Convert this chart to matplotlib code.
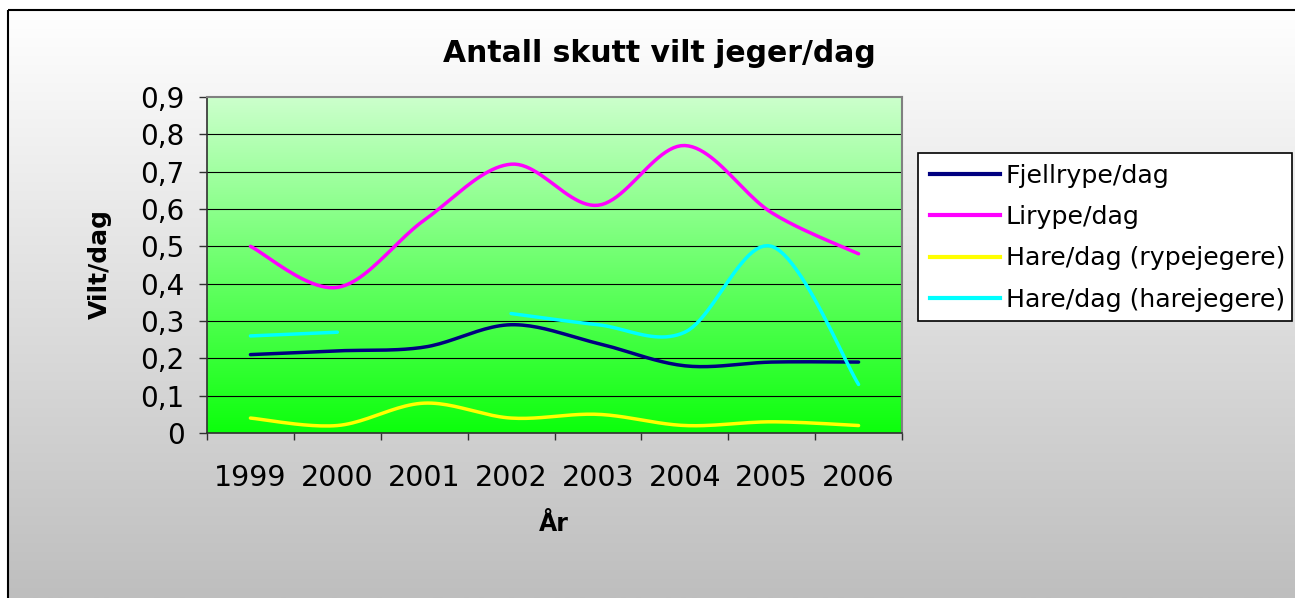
import numpy as np
import matplotlib
matplotlib.use("Agg")
import matplotlib.pyplot as plt
from matplotlib.patches import Rectangle
from matplotlib.lines import Line2D

# ---------------- data ----------------
years = ['1999', '2000', '2001', '2002', '2003', '2004', '2005', '2006']
fjellrype = [0.21, 0.22, 0.23, 0.29, 0.24, 0.18, 0.19, 0.19]
lirype = [0.50, 0.39, 0.57, 0.72, 0.61, 0.77, 0.59, 0.48]
hare_rype = [0.04, 0.02, 0.08, 0.04, 0.05, 0.02, 0.03, 0.02]
hare_hare = [0.26, 0.27, None, 0.32, 0.29, 0.27, 0.50, 0.13]
series_names = ['Fjellrype/dag', 'Lirype/dag', 'Hare/dag (rypejegere)', 'Hare/dag (harejegere)']
series_colors = ['#000080', '#FF00FF', '#FFFF00', '#00FFFF']
yticks = [0, 0.1, 0.2, 0.3, 0.4, 0.5, 0.6, 0.7, 0.8, 0.9]
ytick_labels = ['0', '0,1', '0,2', '0,3', '0,4', '0,5', '0,6', '0,7', '0,8', '0,9']
title = 'Antall skutt vilt jeger/dag'
xlabel = 'År'
ylabel = 'Vilt/dag'

plt.rcParams['font.family'] = ['DejaVu Sans']

W, H = 1295, 598
fig = plt.figure(figsize=(W / 100, H / 100), dpi=100)

# ---------------- chart-area background ----------------
bg = fig.add_axes([0, 0, 1, 1], zorder=-10)
bg.axis('off')
g = np.linspace(255, 190, 256)[:, None] / 255.0
g_img = np.dstack([g, g, g])
bg.imshow(g_img, extent=(8, W + 10, H, 10), aspect='auto', interpolation='bilinear')
bg.add_patch(Rectangle((8, 10), W + 20, H + 20, fill=False, edgecolor='black', lw=1.5, clip_on=False))
bg.set_xlim(0, W)
bg.set_ylim(H, 0)

# ---------------- plot area ----------------
left, right = 207 / W, 902 / W
bottom, top = 1 - 433 / H, 1 - 97 / H
ax = fig.add_axes([left, bottom, right - left, top - bottom])
ax.patch.set_alpha(0)

n = len(years)
xs = np.arange(n)

r = np.linspace(204, 12, 256) / 255.0
grad = np.dstack([r[:, None], np.ones((256, 1)), r[:, None]])
ax.imshow(grad, extent=(-0.5, n - 0.5, 0, 0.9), aspect='auto', interpolation='bilinear', zorder=-1)
ax.set_xlim(-0.5, n - 0.5)
ax.set_ylim(0, 0.9)

for yv in yticks[1:-1]:
    ax.axhline(yv, color='black', lw=0.8, zorder=1)


def smooth(px, py, steps=24):
    pts = np.column_stack([px, py]).astype(float)
    if len(pts) < 3:
        return pts
    out = [pts[0]]
    t = np.linspace(0, 1, steps)[1:, None]
    for i in range(len(pts) - 1):
        p0 = pts[i - 1] if i > 0 else pts[i]
        p1 = pts[i]
        p2 = pts[i + 1]
        p3 = pts[i + 2] if i + 2 < len(pts) else pts[i + 1]
        c1 = p1 + (p2 - p0) / 6
        c2 = p2 - (p3 - p1) / 6
        b = (1 - t) ** 3 * p1 + 3 * (1 - t) ** 2 * t * c1 + 3 * (1 - t) * t ** 2 * c2 + t ** 3 * p2
        out.extend(b)
    return np.array(out)


all_series = [fjellrype, lirype, hare_rype, hare_hare]
for vals, col in zip(all_series, series_colors):
    run_x, run_y = [], []
    runs = []
    for xi, v in zip(xs, vals):
        if v is None:
            if run_x:
                runs.append((run_x, run_y))
            run_x, run_y = [], []
        else:
            run_x.append(xi)
            run_y.append(v)
    if run_x:
        runs.append((run_x, run_y))
    for rx, ry in runs:
        sp = smooth(rx, ry)
        ax.plot(sp[:, 0], sp[:, 1], color=col, lw=2.5, solid_capstyle='round',
                solid_joinstyle='round', zorder=3)

# spines
for s in ['top', 'right']:
    ax.spines[s].set_color('#808080')
    ax.spines[s].set_linewidth(1.5)
for s in ['left', 'bottom']:
    ax.spines[s].set_color('#303030')
    ax.spines[s].set_linewidth(1.2)

# y ticks
ax.set_yticks(yticks)
ax.set_yticklabels(ytick_labels)
ax.tick_params(axis='y', direction='out', length=6, width=1, color='#303030',
               pad=10, labelsize=20)

# x ticks: labels at category centers, marks at boundaries
ax.set_xticks(xs)
ax.set_xticklabels(years)
ax.set_xticks(np.arange(n + 1) - 0.5, minor=True)
ax.tick_params(axis='x', which='major', length=0, pad=22, labelsize=20.5)
ax.tick_params(axis='x', which='minor', direction='out', length=5, width=1, color='#303030')

# ---------------- texts ----------------
fig.text(659 / W, 1 - 62 / H, title, ha='center', va='baseline', fontsize=21.5, fontweight='bold')
fig.text(554 / W, 1 - 531 / H, xlabel, ha='center', va='baseline', fontsize=17, fontweight='bold')
fig.text(100 / W, 1 - 264 / H, ylabel, ha='center', va='center', rotation=90, fontsize=18,
         fontweight='bold')

# ---------------- legend ----------------
bg.add_patch(Rectangle((918, 153), 374, 168, facecolor='white', edgecolor='black', lw=1.2, zorder=5))
handles = [Line2D([0], [0], color=c, lw=3) for c in series_colors]
leg = fig.legend(handles, series_names, loc='upper left', bbox_to_anchor=(930 / W, 1 - 164 / H),
                 frameon=False, borderpad=0, borderaxespad=0, handlelength=2.75,
                 handletextpad=0.25, labelspacing=0.68, fontsize=18.2)

fig.savefig('out.png', dpi=100)
